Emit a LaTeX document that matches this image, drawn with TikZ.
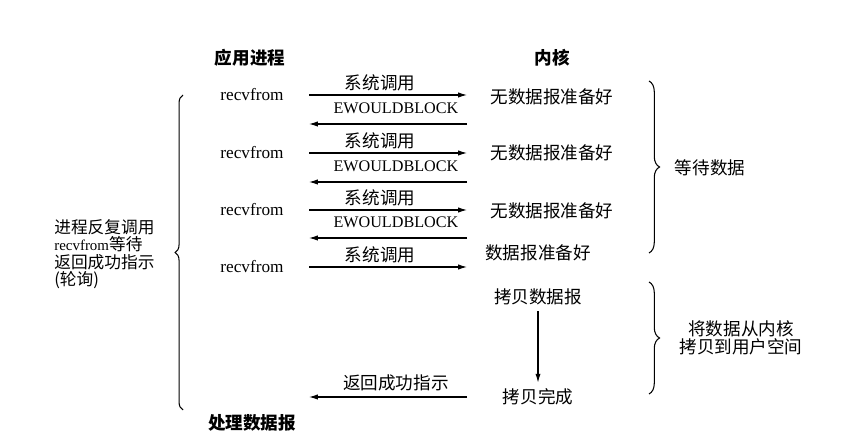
\documentclass[tikz,border=0pt]{standalone}
\usepackage{fontspec}
\setmainfont{Liberation Serif}
\newfontfamily\cjk{Noto Sans CJK SC}
\usepackage{tikz}
\usetikzlibrary{positioning, arrows.meta, decorations.pathreplacing}

\begin{document}
\begin{tikzpicture}[
  x=0.02cm, y=-0.02cm,
  font=\cjk\fontsize{10}{12}\selectfont,
  head/.style={font=\cjk\bfseries\fontsize{10}{12}\selectfont},
  call/.style={font=\rmfamily\fontsize{9.8}{12}\selectfont},
  errmsg/.style={font=\rmfamily\fontsize{9.2}{11}\selectfont, above=2pt, pos=.45},
  syscall/.style={above, inner sep=2pt, pos=.45},
  msg/.style={-{Latex[length=5pt,width=3pt]}, semithick},
  brace/.style={decorate, decoration={brace, amplitude=#1}, semithick},
  note/.style={align=center, font=\cjk\fontsize{10}{10}\selectfont}
]
  \useasboundingbox (0,0) rectangle (865,438);

  \node[head] (app) at (250,58) {应用进程};
  \node[head] (kern) at (552,58) {内核};
  \coordinate (ul) at (309,0);
  \coordinate (kl) at (467,0);

  \node[call] (rf1) at (252,95) {recvfrom};
  \node[call] (rf2) at (252,153) {recvfrom};
  \node[call] (rf3) at (252,210) {recvfrom};
  \node[call] (rf4) at (252,267) {recvfrom};

  \node (nd1) at (552,97) {无数据报准备好};
  \node (nd2) at (552,153) {无数据报准备好};
  \node (nd3) at (552,211) {无数据报准备好};
  \node (rdy) at (538,253) {数据报准备好};
  \node (cpy) at (538,297) {拷贝数据报};
  \node (done) at (538,397) {拷贝完成};
  \node[head] (proc) at (252,423) {处理数据报};

  \coordinate (ew1) at (467,124);
  \coordinate (ew2) at (467,182);
  \coordinate (ew3) at (467,238);

  \draw[msg] (rf1 -| ul) -- node[syscall] {系统调用} (rf1 -| kl);
  \draw[msg] (ew1) -- node[errmsg] {EWOULDBLOCK} (ew1 -| ul);
  \draw[msg] (rf2 -| ul) -- node[syscall] {系统调用} (rf2 -| kl);
  \draw[msg] (ew2) -- node[errmsg] {EWOULDBLOCK} (ew2 -| ul);
  \draw[msg] (rf3 -| ul) -- node[syscall] {系统调用} (rf3 -| kl);
  \draw[msg] (ew3) -- node[errmsg] {EWOULDBLOCK} (ew3 -| ul);
  \draw[msg] (rf4 -| ul) -- node[syscall] {系统调用} (rf4 -| kl);
  \draw[msg] (cpy) -- (done);
  \draw[msg] (done -| kl) -- node[above, pos=.45] {返回成功指示} (done -| ul);

  \draw[brace=4.5pt] (183,410) -- (183,95);
  \draw[brace=6pt] (649,81) -- (649,253);
  \draw[brace=6pt] (649,282) -- (649,394);

  \node[anchor=west, align=left, inner sep=0pt, font=\cjk\fontsize{9.5}{10}\selectfont] (poll) at (54,254)
    {进程反复调用\\{\rmfamily\fontsize{8.5}{10}\selectfont recvfrom}等待\\返回成功指示\\(轮询)};
  \node (wait) at (710,168) {等待数据};
  \node[note] (copy) at (741,338) {将数据从内核\\拷贝到用户空间};
\end{tikzpicture}
\end{document}
